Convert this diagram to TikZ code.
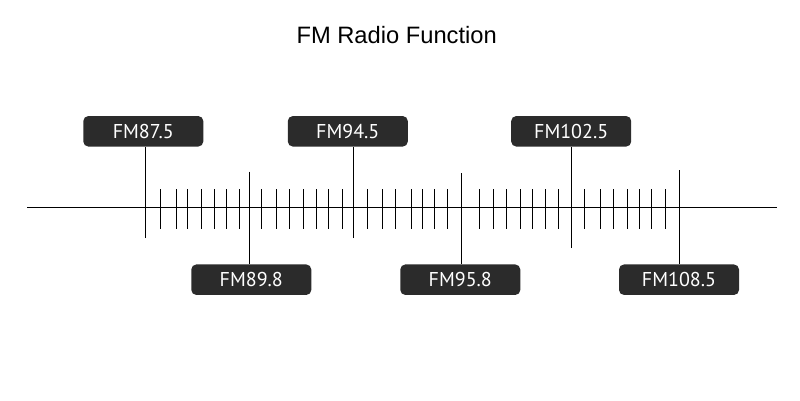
\documentclass[tikz,border=0pt]{standalone}
\usepackage{fontspec}
\setmainfont{Liberation Sans}
\newfontfamily\labelfont{PT Sans}
\definecolor{boxgray}{HTML}{2B2B2B}
\tikzset{
  freqbox/.style={fill=boxgray, text=white, rounded corners=5pt,
    minimum width=120pt, minimum height=30.5pt, inner sep=0pt,
    font=\labelfont\fontsize{20}{20}\selectfont},
  marker/.style={line width=0.9pt},
  tick/.style={line width=1pt}
}

\begin{document}
\begin{tikzpicture}[x=1pt, y=-1pt]
      \useasboundingbox (0,0) rectangle (800,400);
      \node (title) at (396.7,35) {\fontsize{23.7}{24}\selectfont FM Radio Function};
      \draw[line width=1pt] (27,207)--(777,207);
      % frequency labels
      \node[freqbox] (f875) at (143.3,131.3) {FM87.5};
      \node[freqbox] (f898) at (251.3,279.7) {FM89.8};
      \node[freqbox] (f945) at (347.8,131.3) {FM94.5};
      \node[freqbox] (f958) at (460.3,279.7) {FM95.8};
      \node[freqbox] (f1025) at (571.2,131.3) {FM102.5};
      \node[freqbox] (f1085) at (679,279.7) {FM108.5};
      % marker ends
      \coordinate (m875) at (145.3,238);
      \coordinate (m898) at (249.7,171.7);
      \coordinate (m945) at (353.3,238);
      \coordinate (m958) at (461.7,173);
      \coordinate (m1025) at (571.7,248);
      \coordinate (m1085) at (679.3,170);
      \draw[marker] (m875) -- (m875 |- f875.south);
      \draw[marker] (m898) -- (m898 |- f898.north);
      \draw[marker] (m945) -- (m945 |- f945.south);
      \draw[marker] (m958) -- (m958 |- f958.north);
      \draw[marker] (m1025) -- (m1025 |- f1025.south);
      \draw[marker] (m1085) -- (m1085 |- f1085.north);
      % routine for ticks
      \draw[tick] (160.7,189)--(160.7,229) (176,189)--(176,229) (187.7,189)--(187.7,229) (201.7,189)--(201.7,229) (214,189)--(214,229) (226.7,189)--(226.7,229) (239.3,189)--(239.3,229);
      \draw[tick] (261.7,189)--(261.7,229) (276.7,189)--(276.7,229) (289.3,189)--(289.3,229) (303.3,189)--(303.3,229) (316,189)--(316,229) (328.3,189)--(328.3,229) (342.3,189)--(342.3,229);
      \draw[tick] (367.3,189)--(367.3,229) (382.7,189)--(382.7,229) (395.7,189)--(395.7,229) (411,189)--(411,229) (422.3,189)--(422.3,229) (434.7,189)--(434.7,229) (447.7,189)--(447.7,229);
      \draw[tick] (479.3,189)--(479.3,229) (493.3,189)--(493.3,229) (506.7,189)--(506.7,229) (520.7,189)--(520.7,229) (532.7,189)--(532.7,229) (545,189)--(545,229) (558.7,189)--(558.7,229);
      \draw[tick] (584.3,189)--(584.3,229) (600,189)--(600,229) (613.3,189)--(613.3,229) (627.7,189)--(627.7,229) (639.3,189)--(639.3,229) (651.7,189)--(651.7,229) (665,189)--(665,229);
    \end{tikzpicture}
\end{document}
